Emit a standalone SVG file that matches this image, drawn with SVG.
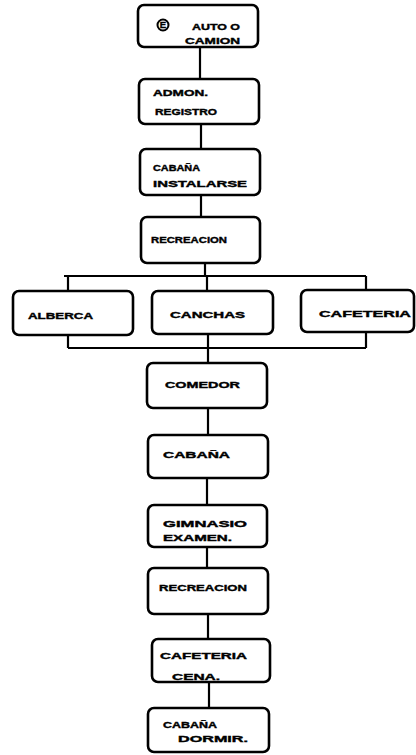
<svg xmlns="http://www.w3.org/2000/svg" width="416" height="755" viewBox="0 0 416 755">
<style>
.box{fill:#fff;stroke:#000;stroke-width:2.6}
.ln{fill:none;stroke:#000;stroke-width:2.2}
.t{font-family:"Liberation Sans",Arial,sans-serif;font-weight:bold;font-size:9.5px;fill:#000;stroke:#000;stroke-width:0.4}
</style>
<rect width="416" height="755" fill="#fff"/>
<g id="connectors" class="ln">
<path d="M200 47V79"/>
<path d="M201 124V149"/>
<path d="M201 195V217"/>
<path d="M205 263V276"/>
<path d="M64 276H366"/>
<path d="M68 276V291"/>
<path d="M207 276V291"/>
<path d="M366 276V290"/>
<path d="M68 335V348"/>
<path d="M366 332V348"/>
<path d="M68 348H366"/>
<path d="M208 334V363"/>
<path d="M208 408V435"/>
<path d="M207 478V505"/>
<path d="M207 547V568"/>
<path d="M208 614V639"/>
<path d="M209 682V708"/>
</g>
<g id="n1"><rect class="box" x="138" y="5" width="120" height="42" rx="6"/>
<circle cx="163" cy="25" r="5.5" fill="none" stroke="#000" stroke-width="2"/>
<text class="t" x="163" y="28" font-size="7" text-anchor="middle">E</text>
<text class="t" x="192" y="30" textLength="48" lengthAdjust="spacingAndGlyphs">AUTO O</text>
<text class="t" x="185" y="44" textLength="55" lengthAdjust="spacingAndGlyphs">CAMION</text></g>
<g id="n2"><rect class="box" x="139" y="79" width="120" height="45" rx="6"/>
<text class="t" x="153" y="96" textLength="55" lengthAdjust="spacingAndGlyphs">ADMON.</text>
<text class="t" x="155" y="115" textLength="62" lengthAdjust="spacingAndGlyphs">REGISTRO</text></g>
<g id="n3"><rect class="box" x="140" y="149" width="120" height="46" rx="6"/>
<text class="t" x="153" y="171" textLength="47" lengthAdjust="spacingAndGlyphs">CABAÑA</text>
<text class="t" x="153" y="187" textLength="94" lengthAdjust="spacingAndGlyphs">INSTALARSE</text></g>
<g id="n4"><rect class="box" x="141" y="217" width="119" height="46" rx="6"/>
<text class="t" x="151" y="243" textLength="76" lengthAdjust="spacingAndGlyphs">RECREACION</text></g>
<g id="n5"><rect class="box" x="13" y="291" width="120" height="44" rx="6"/>
<text class="t" x="28" y="319" textLength="65" lengthAdjust="spacingAndGlyphs">ALBERCA</text></g>
<g id="n6"><rect class="box" x="152" y="291" width="121" height="43" rx="6"/>
<text class="t" x="170" y="318" textLength="75" lengthAdjust="spacingAndGlyphs">CANCHAS</text></g>
<g id="n7"><rect class="box" x="301" y="290" width="113" height="42" rx="6"/>
<text class="t" x="319" y="317" textLength="92" lengthAdjust="spacingAndGlyphs">CAFETERIA</text></g>
<g id="n8"><rect class="box" x="147" y="363" width="120" height="45" rx="6"/>
<text class="t" x="165" y="388" textLength="75" lengthAdjust="spacingAndGlyphs">COMEDOR</text></g>
<g id="n9"><rect class="box" x="148" y="435" width="120" height="43" rx="6"/>
<text class="t" x="163" y="458" textLength="67" lengthAdjust="spacingAndGlyphs">CABAÑA</text></g>
<g id="n10"><rect class="box" x="148" y="505" width="119" height="42" rx="6"/>
<text class="t" x="163" y="527" textLength="84" lengthAdjust="spacingAndGlyphs">GIMNASIO</text>
<text class="t" x="163" y="541" textLength="69" lengthAdjust="spacingAndGlyphs">EXAMEN.</text></g>
<g id="n11"><rect class="box" x="148" y="568" width="120" height="46" rx="6"/>
<text class="t" x="159" y="591" textLength="88" lengthAdjust="spacingAndGlyphs">RECREACION</text></g>
<g id="n12"><rect class="box" x="152" y="639" width="118" height="43" rx="6"/>
<text class="t" x="160" y="659" textLength="87" lengthAdjust="spacingAndGlyphs">CAFETERIA</text>
<text class="t" x="172" y="680" textLength="48" lengthAdjust="spacingAndGlyphs">CENA.</text></g>
<g id="n13"><rect class="box" x="148" y="708" width="121" height="44" rx="6"/>
<text class="t" x="163" y="728" textLength="54" lengthAdjust="spacingAndGlyphs">CABAÑA</text>
<text class="t" x="178" y="742" textLength="70" lengthAdjust="spacingAndGlyphs">DORMIR.</text></g>
</svg>
